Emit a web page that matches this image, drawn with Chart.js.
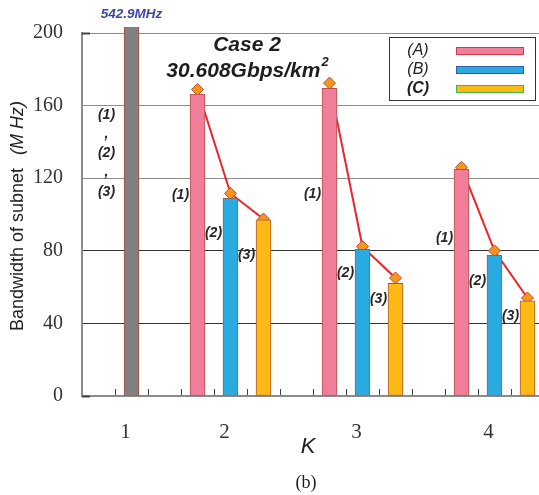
<!DOCTYPE html>
<html><head><meta charset="utf-8">
<script src="https://cdn.jsdelivr.net/npm/chart.js@4.4.1/dist/chart.umd.min.js"></script>
<style>html,body{margin:0;padding:0;overflow:hidden;background:#fff;width:539px;height:495px}canvas{display:block}</style>
</head><body>
<canvas id="c" width="560" height="495" style="width:560px;height:495px"></canvas>
<script>
// ---- data ----
const kLabels = ['1', '2', '3', '4'];
const seriesNames = ['(A)', '(B)', '(C)'];
const caseTitle = 'Case 2';
const densityLabel = '30.608Gbps/km';
const k1Value = 542.9;            // K = 1: (1),(2),(3) identical
const k1Label = '542.9MHz';
const seriesA = [166.4, 169.5, 124.9];   // K = 2,3,4
const seriesB = [109.0, 80.8, 77.7];
const seriesC = [97.0, 62.1, 52.5];
const markerA = [168.9, 172.4, 126.0];
const markerB = [111.6, 82.3, 80.0];
const markerC = [97.5, 65.0, 54.0];
const yTickValues = [0, 40, 80, 120, 160, 200];

// ---- build library tables ----
const SLOTS = 14;
const slotLabels = Array(SLOTS).fill('');
const k1Data = Array(SLOTS).fill(null);
const aData = Array(SLOTS).fill(null);
const bData = Array(SLOTS).fill(null);
const cData = Array(SLOTS).fill(null);
const markerData = Array(SLOTS).fill(null);
slotLabels[1] = kLabels[0];
k1Data[1] = k1Value;
for (let j = 0; j < 3; j++) {
  const s = 4 * (j + 1);
  slotLabels[s] = kLabels[j + 1];
  aData[s - 1] = seriesA[j]; bData[s] = seriesB[j]; cData[s + 1] = seriesC[j];
  markerData[s - 1] = markerA[j]; markerData[s] = markerB[j]; markerData[s + 1] = markerC[j];
}

const fills = ['#F07E9B', '#29ABE2', '#FDBA14'];
const edges = ['#B2524A', '#A8564C', '#B2563A'];
const legendEdges = ['#D23A4A', '#2E5FA8', '#3FB54A'];

const SANS = '"Liberation Sans", Arial, sans-serif';
const SERIF = '"Liberation Serif", "Times New Roman", serif';

const deco = {
  id: 'deco',
  afterDraw(chart) {
    const { ctx, scales: { x, y }, chartArea } = chart;
    ctx.save();
    ctx.textAlign = 'center';
    ctx.textBaseline = 'middle';

    // inward tick marks of the y axis at its ends
    ctx.strokeStyle = '#444';
    ctx.lineWidth = 2;
    [0, 200].forEach(v => {
      const py = Math.round(y.getPixelForValue(v)) + 0.5;
      ctx.beginPath(); ctx.moveTo(chartArea.left, py); ctx.lineTo(chartArea.left + 8, py); ctx.stroke();
    });

    // value label of the clipped K=1 bar
    ctx.fillStyle = '#3B4A9E';
    ctx.font = 'italic bold 13.5px ' + SANS;
    ctx.fillText(k1Label, x.getPixelForValue(1), chartArea.top - 19);

    // titles
    ctx.fillStyle = '#1e1e1e';
    ctx.font = 'italic bold 21px ' + SANS;
    ctx.fillText(caseTitle, 247, 45);
    const w1 = ctx.measureText(densityLabel).width;
    ctx.font = 'italic bold 13px ' + SANS;
    const w2 = ctx.measureText('2').width;
    const sx = 247 - (w1 + w2) / 2;
    ctx.textAlign = 'left';
    ctx.font = 'italic bold 21px ' + SANS;
    ctx.fillText(densityLabel, sx, 71);
    ctx.font = 'italic bold 13px ' + SANS;
    ctx.fillText('2', sx + w1 + 1, 62);

    // legend
    ctx.fillStyle = '#fff';
    ctx.fillRect(389, 37, 146, 63);
    ctx.strokeStyle = '#333';
    ctx.lineWidth = 1;
    ctx.strokeRect(389.5, 37.5, 146, 63);
    const ly = [51, 70, 89];
    for (let i = 0; i < 3; i++) {
      ctx.textAlign = 'center';
      ctx.fillStyle = '#222';
      ctx.font = (i === 2 ? 'italic bold 16px ' : 'italic 16px ') + SANS;
      ctx.fillText(seriesNames[i], 418, ly[i]);
      ctx.fillStyle = fills[i];
      ctx.fillRect(456, ly[i] - 3, 67, 6);
      ctx.strokeStyle = legendEdges[i];
      ctx.strokeRect(456.5, ly[i] - 3.5, 67, 7);
    }

    // bar tags
    ctx.fillStyle = '#262626';
    ctx.font = 'italic bold 14px ' + SANS;
    ctx.textAlign = 'center';
    const tagVals = [[110.7, 89.8, 77.7], [111.3, 67.8, 53.4], [87.1, 63.4, 44.1]];
    const tags = ['(1)', '(2)', '(3)'];
    for (let j = 0; j < 3; j++) {
      const s = 4 * (j + 1);
      for (let i = 0; i < 3; i++) {
        ctx.fillText(tags[i], x.getPixelForValue(s - 1 + i) - 17, y.getPixelForValue(tagVals[j][i]));
      }
    }
    const gx = x.getPixelForValue(1) - 25;
    const gLines = ['(1)', ',', '(2)', ',', '(3)'];
    const gVals = [154.8, 144.4, 133.9, 123.4, 112.4];
    gLines.forEach((t, i) => ctx.fillText(t, gx, y.getPixelForValue(gVals[i])));

    // axis titles
    ctx.fillStyle = '#1e1e1e';
    ctx.font = 'italic 22px ' + SANS;
    ctx.fillText('K', 308, 447);
    ctx.font = '18px ' + SERIF;
    ctx.fillText('(b)', 306, 483);

    ctx.save();
    ctx.translate(23, 331);
    ctx.rotate(-Math.PI / 2);
    ctx.textAlign = 'left';
    ctx.textBaseline = 'alphabetic';
    ctx.font = '18px ' + SANS;
    ctx.fillStyle = '#222';
    const t1 = 'Bandwidth of subnet';
    ctx.fillText(t1, 0, 0);
    const tw = ctx.measureText(t1 + '  ').width + 3;
    ctx.font = 'italic 18px ' + SANS;
    ctx.fillText('(M Hz)', tw, 0);
    ctx.restore();

    ctx.restore();
  }
};

const barBase = { borderWidth: 1, borderSkipped: false, order: 0, clip: { left: 0, top: 6, right: 0, bottom: 2 } };

new Chart(document.getElementById('c'), {
  type: 'bar',
  data: {
    labels: slotLabels,
    datasets: [
      Object.assign({ label: 'K1', data: k1Data, backgroundColor: '#808080', borderColor: '#A8483E' }, barBase),
      Object.assign({ label: seriesNames[0], data: aData, backgroundColor: fills[0], borderColor: edges[0] }, barBase),
      Object.assign({ label: seriesNames[1], data: bData, backgroundColor: fills[1], borderColor: edges[1] }, barBase),
      Object.assign({ label: seriesNames[2], data: cData, backgroundColor: fills[2], borderColor: edges[2] }, barBase),
      {
        type: 'line', label: 'marker', data: markerData, order: 1,
        borderColor: '#EE2229', borderWidth: 2, spanGaps: false, clip: false,
        pointStyle: 'rectRot', pointRadius: 6, pointBackgroundColor: '#F7941D',
        pointBorderColor: '#B0522A', pointBorderWidth: 1, tension: 0
      }
    ]
  },
  options: {
    responsive: false, animation: false, devicePixelRatio: 1,
    layout: { autoPadding: false, padding: { left: 0, top: 33, right: 16, bottom: 0 } },
    datasets: { bar: { grouped: false, barThickness: 15, skipNull: true } },
    plugins: { legend: { display: false }, tooltip: { enabled: false }, title: { display: false } },
    scales: {
      x: {
        ticks: { autoSkip: false, maxRotation: 0, minRotation: 0, padding: 31, labelOffset: -6, color: '#333', font: { family: SERIF, size: 21 } },
        grid: { offset: true, drawOnChartArea: false, drawTicks: true, tickLength: -7, color: '#444' },
        border: { color: '#8c8c8c', width: 2 },
        afterFit: s => { s.height = 99; }
      },
      y: {
        min: 0, max: 200,
        afterBuildTicks: s => { s.ticks = yTickValues.map(v => ({ value: v })); },
        ticks: { padding: 19, color: '#333', font: { family: SERIF, size: 20 } },
        grid: { color: c => (c.tick && (c.tick.value >= 120 || c.tick.value === 0)) ? '#8c8c8c' : '#333', lineWidth: 1, drawTicks: false },
        border: { color: '#8c8c8c', width: 2 },
        afterFit: s => { s.width = 82; }
      }
    }
  },
  plugins: [deco]
});
</script>
</body></html>
